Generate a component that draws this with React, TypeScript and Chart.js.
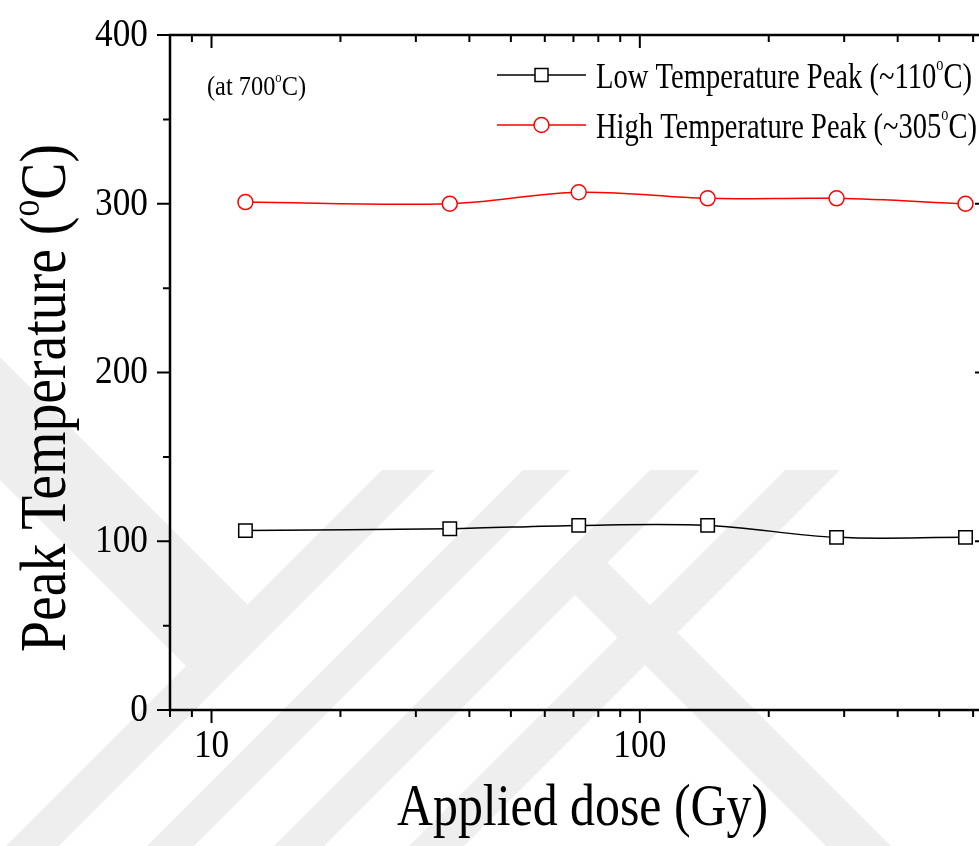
import React, { useEffect, useRef } from "react";
import { Chart, registerables } from "chart.js";

Chart.register(...registerables);

// Applied dose (Gy) for each measurement
const doses = [12, 36, 72, 144, 288, 576];
// Peak positions (°C) after annealing at 700 °C
const lowPeak = [106.3, 107.4, 109.4, 109.4, 102.3, 102.3];
const highPeak = [301, 300, 306.8, 303.2, 303.2, 300];

const seriesNames = ["Low Temperature Peak (~110°C)", "High Temperature Peak (~305°C)"];

// Axis tick values
const xMajorTicks = [10, 100];
const xMinorTicks = [8, 9, 20, 30, 40, 50, 60, 70, 80, 90, 200, 300, 400, 500, 600];
const yMajorTicks = [0, 100, 200, 300, 400];
const yMinorTicks = [50, 150, 250, 350];

// Text pieces with a raised "o" for the degree mark
const yTitleParts = ["Peak Temperature (", "o", "C)"];
const xTitleParts = ["Applied dose (Gy)"];
const noteParts = ["(at 700", "o", "C)"];
const lowLegendParts = ["Low Temperature Peak (~110", "o", "C)"];
const highLegendParts = ["High Temperature Peak (~305", "o", "C)"];

const FAMILY = "'Liberation Serif', 'Times New Roman', Times, serif";
const BAND = "#eeeeee";

type Part = { text: string; size: number; rise: number };

function superParts(texts: string[], size: number, supSize: number, rise: number): Part[] {
  return texts.map((t, i) =>
    texts.length === 3 && i === 1 ? { text: t, size: supSize, rise } : { text: t, size, rise: 0 }
  );
}

// Draws a run of text squeezed horizontally to a given overall width
function drawRich(
  ctx: CanvasRenderingContext2D,
  parts: Part[],
  x: number,
  y: number,
  width: number,
  rotate = false
) {
  ctx.save();
  let natural = 0;
  for (const p of parts) {
    ctx.font = `${p.size}px ${FAMILY}`;
    natural += ctx.measureText(p.text).width;
  }
  const sx = width / natural;
  ctx.translate(x, y);
  if (rotate) ctx.rotate(-Math.PI / 2);
  ctx.scale(sx, 1);
  ctx.textAlign = "left";
  ctx.textBaseline = "alphabetic";
  ctx.fillStyle = "#000";
  let cx = 0;
  for (const p of parts) {
    ctx.font = `${p.size}px ${FAMILY}`;
    ctx.fillText(p.text, cx, -p.rise);
    cx += ctx.measureText(p.text).width;
  }
  ctx.restore();
}

// Light diagonal bands behind the plot
function drawBands(ctx: CanvasRenderingContext2D) {
  const H = 846;
  const slash = (a: number, b: number, top: number, bot: number) => {
    ctx.beginPath();
    ctx.moveTo(a - top, top);
    ctx.lineTo(b - top, top);
    ctx.lineTo(b - bot, bot);
    ctx.lineTo(a - bot, bot);
    ctx.closePath();
    ctx.fill();
  };
  ctx.save();
  ctx.fillStyle = BAND;
  slash(852, 905, 470, H);
  slash(993, 1040, 470, H);
  slash(1120, 1170, 470, H);
  slash(1255, 1310, 470, H);
  // wide left arm, stopping on the first band
  ctx.beginPath();
  ctx.moveTo(-480 + 300, 300);
  ctx.lineTo(-357 + 300, 300);
  ctx.lineTo((852 - 357) / 2, (852 + 357) / 2);
  ctx.lineTo((852 - 480) / 2, (852 + 480) / 2);
  ctx.closePath();
  ctx.fill();
  // lower right arm, starting from the third band
  ctx.beginPath();
  ctx.moveTo((1120 - 20) / 2, (1120 + 20) / 2);
  ctx.lineTo((1120 + 45) / 2, (1120 - 45) / 2);
  ctx.lineTo(45 + H, H);
  ctx.lineTo(-20 + H, H);
  ctx.closePath();
  ctx.fill();
  ctx.restore();
}

const MAJOR = 13;
const MINOR = 7;

const framePlugin = {
  id: "frameAndTicks",
  beforeDraw(chart: any) {
    const ctx: CanvasRenderingContext2D = chart.ctx;
    drawBands(ctx);
    // tick labels are drawn in a narrow serif face
    const orig = ctx.fillText;
    chart.$origFill = orig;
    ctx.fillText = function (this: CanvasRenderingContext2D, text: string, x: number, y: number) {
      this.save();
      this.translate(x, y);
      this.scale(0.86, 1);
      orig.call(this, text, 0, 0);
      this.restore();
    } as any;
  },
  beforeDatasetsDraw(chart: any) {
    if (chart.$origFill) {
      chart.ctx.fillText = chart.$origFill;
      chart.$origFill = null;
    }
  },
  afterDatasetsDraw(chart: any) {
    const ctx: CanvasRenderingContext2D = chart.ctx;
    const { left, right, top, bottom } = chart.chartArea;
    const xs = chart.scales.x;
    const ys = chart.scales.y;
    ctx.save();
    ctx.strokeStyle = "#000";
    ctx.lineWidth = 2.5;
    ctx.lineCap = "butt";
    ctx.beginPath();
    ctx.rect(left, top, right - left, bottom - top);
    ctx.stroke();
    ctx.lineWidth = 2;
    ctx.beginPath();
    const xTick = (v: number, len: number) => {
      const px = xs.getPixelForValue(v);
      ctx.moveTo(px, bottom);
      ctx.lineTo(px, bottom + len);
      ctx.moveTo(px, top);
      ctx.lineTo(px, top + len);
    };
    const yTick = (v: number, len: number) => {
      const py = ys.getPixelForValue(v);
      ctx.moveTo(left, py);
      ctx.lineTo(left - len, py);
      ctx.moveTo(right, py);
      ctx.lineTo(right - len, py);
    };
    xMajorTicks.forEach((v) => xTick(v, MAJOR));
    xMinorTicks.forEach((v) => xTick(v, MINOR));
    yMajorTicks.forEach((v) => yTick(v, MAJOR));
    yMinorTicks.forEach((v) => yTick(v, MINOR));
    ctx.stroke();
    ctx.restore();
  },
  afterDraw(chart: any) {
    const ctx: CanvasRenderingContext2D = chart.ctx;
    // axis titles
    drawRich(ctx, superParts(yTitleParts, 66, 40, 26), 65, 652, 508, true);
    drawRich(ctx, superParts(xTitleParts, 60, 36, 0), 397, 825, 371);
    // note
    drawRich(ctx, superParts(noteParts, 27, 14, 13), 207, 95, 99);

    // legend
    const sx0 = 497;
    const sx1 = 586;
    const mx = (sx0 + sx1) / 2;
    const rows = [
      { y: 75, color: "#000000", parts: lowLegendParts, width: 376, square: true },
      { y: 125, color: "#ff0000", parts: highLegendParts, width: 381, square: false },
    ];
    ctx.save();
    for (const r of rows) {
      ctx.strokeStyle = r.color;
      ctx.lineWidth = 1.5;
      ctx.beginPath();
      ctx.moveTo(sx0, r.y);
      ctx.lineTo(sx1, r.y);
      ctx.stroke();
      ctx.fillStyle = "#fff";
      ctx.beginPath();
      if (r.square) ctx.rect(mx - 6.5, r.y - 6.5, 13, 13);
      else ctx.arc(mx, r.y, 7.5, 0, Math.PI * 2);
      ctx.fill();
      ctx.stroke();
      drawRich(ctx, superParts(r.parts, 36, 18, 18), 596, r.y + 12.5, r.width);
    }
    ctx.restore();
  },
};

const zeroPadding = (s: any) => {
  s.paddingTop = 0;
  s.paddingBottom = 0;
  s.paddingLeft = 0;
  s.paddingRight = 0;
};

export default function App() {
  const canvasRef = useRef<HTMLCanvasElement | null>(null);

  useEffect(() => {
    document.documentElement.style.overflow = "hidden";
    document.body.style.overflow = "hidden";
    const canvas = canvasRef.current;
    if (!canvas) return;
    const tickFont = { family: FAMILY, size: 41 };
    const chart = new Chart(canvas, {
      type: "line",
      data: {
        datasets: [
          {
            label: seriesNames[0],
            data: doses.map((d, i) => ({ x: d, y: lowPeak[i] })),
            borderColor: "#000000",
            borderWidth: 1.5,
            tension: 0.35,
            pointStyle: "rect",
            pointRadius: 9.5,
            pointBackgroundColor: "#ffffff",
            pointBorderColor: "#000000",
            pointBorderWidth: 1.5,
          },
          {
            label: seriesNames[1],
            data: doses.map((d, i) => ({ x: d, y: highPeak[i] })),
            borderColor: "#ff0000",
            borderWidth: 1.5,
            tension: 0.35,
            pointStyle: "circle",
            pointRadius: 7.5,
            pointBackgroundColor: "#ffffff",
            pointBorderColor: "#ff0000",
            pointBorderWidth: 1.5,
          },
        ],
      },
      options: {
        responsive: false,
        animation: false,
        devicePixelRatio: 1,
        events: [],
        layout: { autoPadding: false, padding: { top: 35, right: 12, left: 0, bottom: 0 } },
        plugins: {
          legend: { display: false },
          tooltip: { enabled: false },
          title: { display: false },
        },
        scales: {
          x: {
            type: "logarithmic",
            position: "bottom",
            min: 8,
            max: 650,
            grid: { display: false, drawTicks: false },
            border: { display: false },
            afterBuildTicks: (s: any) => {
              s.ticks = xMajorTicks.map((v) => ({ value: v }));
            },
            ticks: {
              font: tickFont,
              color: "#000",
              padding: 12,
              maxRotation: 0,
              autoSkip: false,
              callback: (v: any) => String(v),
            },
            afterFit: (s: any) => {
              s.height = 136;
              zeroPadding(s);
            },
          },
          y: {
            type: "linear",
            min: 0,
            max: 400,
            grid: { display: false, drawTicks: false },
            border: { display: false },
            afterBuildTicks: (s: any) => {
              s.ticks = yMajorTicks.map((v) => ({ value: v }));
            },
            ticks: {
              font: tickFont,
              color: "#000",
              padding: 22,
              callback: (v: any) => String(v),
            },
            afterFit: (s: any) => {
              s.width = 170;
              zeroPadding(s);
            },
          },
        },
      },
      plugins: [framePlugin],
    } as any);
    return () => chart.destroy();
  }, []);

  return (
    <div style={{ position: "fixed", left: 0, top: 0, width: 1000, height: 846, background: "#fff" }}>
      <canvas ref={canvasRef} width={1000} height={846} style={{ display: "block" }} />
    </div>
  );
}
